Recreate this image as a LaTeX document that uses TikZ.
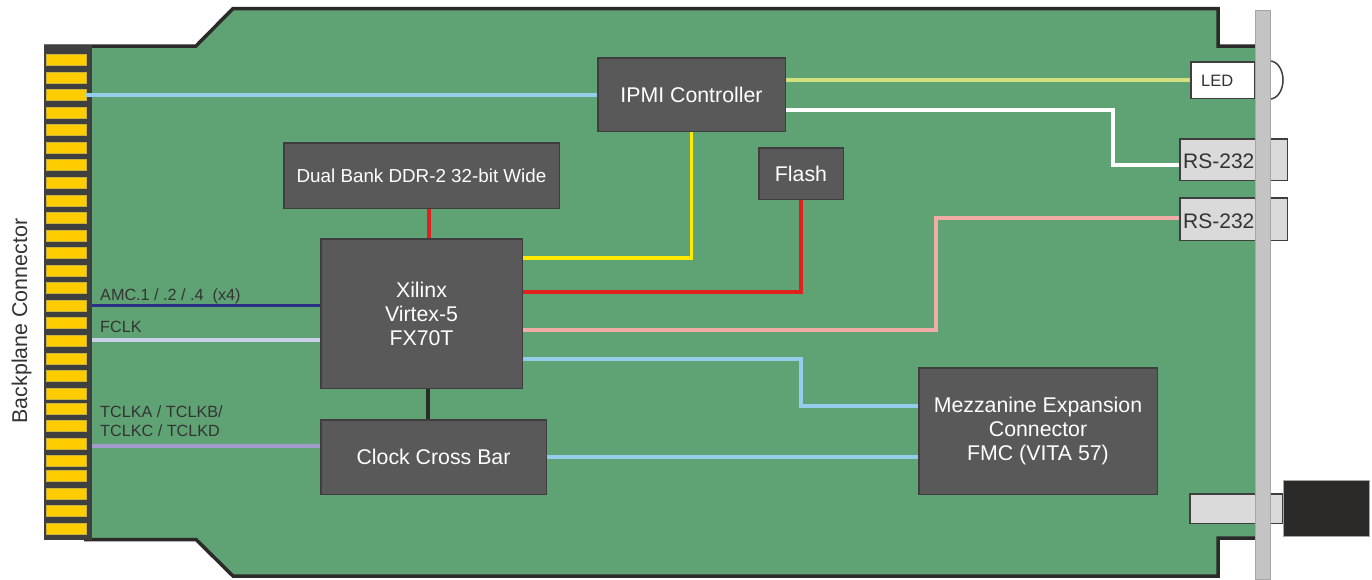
\documentclass[tikz,border=0pt]{standalone}
\usepackage{fontspec}
\setmainfont{Liberation Sans}
\definecolor{board}{HTML}{5FA274}
\definecolor{edgedark}{HTML}{2B2A29}
\definecolor{chip}{HTML}{595959}
\definecolor{chipline}{HTML}{3E3E3E}
\definecolor{strip}{HTML}{3F3F3F}
\definecolor{pad}{HTML}{FFCC00}
\definecolor{padline}{HTML}{C9B23C}
\definecolor{panel}{HTML}{C4C4C4}
\definecolor{panelline}{HTML}{A6A6A6}
\definecolor{port}{HTML}{DADADA}
\definecolor{wblue}{HTML}{93CDEB}
\definecolor{wlime}{HTML}{D3DF80}
\definecolor{wyellow}{HTML}{FFEA00}
\definecolor{wred}{HTML}{E0201C}
\definecolor{wpink}{HTML}{F2ACA8}
\definecolor{wnavy}{HTML}{2B2F85}
\definecolor{wlav}{HTML}{CBD0EA}
\definecolor{wpurple}{HTML}{A29CCB}
\definecolor{ink}{HTML}{333333}
\tikzset{
  chipbox/.style={draw=chipline,line width=1.5pt,fill=chip,text=white,inner sep=0pt,align=center,anchor=north west},
  portbox/.style={draw=chipline,line width=1.5pt,fill=port,text=ink,inner sep=0pt,anchor=north west},
  padbox/.style={draw=padline,line width=0.8pt,fill=pad,inner sep=0pt,minimum width=40pt,minimum height=11pt},
  wire/.style={line width=3.5pt},
  lab/.style={text=ink,font=\fontsize{16.2}{18.5}\selectfont,anchor=west,inner sep=0pt,align=left}
}
\begin{document}
\begin{tikzpicture}[x=1pt,y=-1pt]
\useasboundingbox (0,0) rectangle (1372,579);
% board
\fill[board] (92,46) -- (196,46) -- (233,8) -- (1218,8) -- (1218,46) -- (1256,46) -- (1256,538) -- (1218,538) -- (1218,576) -- (233,576) -- (196,540) -- (92,540) -- cycle;
\draw[edgedark,line width=3.5pt,line join=miter] (44,46) -- (196,46) -- (233,8.5) -- (1218,8.5) -- (1218,46) -- (1256,46);
\draw[edgedark,line width=3.5pt,line join=miter] (84,539.5) -- (196,539.5) -- (233,576) -- (1218,576) -- (1218,538) -- (1256,538);
% edge strip
\fill[strip] (44,45) rectangle (92,540);
% pads
\foreach \i/\y in {1/60,2/77.5,3/95,4/112.6,5/130,6/147.7,7/165.3,8/182.9,9/200.4,10/218,11/235.5,12/253,13/270.6,14/288,15/305.7,16/323.3,17/340.8,18/358.4,19/376,20/393.5,21/408.5,22/426,23/443.5,24/461,25/476,26/493.5,27/511,28/529}
  \node[padbox] (pad\i) at (66,\y) {};
% chips
\node[chipbox,minimum width=187.5pt,minimum height=73.5pt,font=\fontsize{21.3}{24}\selectfont] (ipmi) at (597,57) {IPMI Controller};
\node[chipbox,minimum width=275.5pt,minimum height=65.5pt,font=\fontsize{18.8}{20}\selectfont] (ddr) at (283,142) {Dual Bank DDR-2 32-bit Wide};
\node[chipbox,minimum width=84.5pt,minimum height=51.5pt,font=\fontsize{21.3}{24}\selectfont] (flash) at (758,147) {Flash};
\node[chipbox,minimum width=201.5pt,minimum height=149.5pt,font=\fontsize{21.3}{24}\selectfont] (xil) at (320,238) {Xilinx\\Virtex-5\\FX70T};
\node[chipbox,minimum width=225.5pt,minimum height=74.5pt,font=\fontsize{21.3}{24}\selectfont] (clk) at (320,419) {Clock Cross Bar};
\node[chipbox,minimum width=238.5pt,minimum height=126.5pt,font=\fontsize{21.3}{24}\selectfont] (mezz) at (918,367) {Mezzanine Expansion\\Connector\\FMC (VITA 57)};
% front panel parts behind the panel
\node[portbox,minimum width=63.5pt,minimum height=36.5pt,fill=white] (led) at (1190,61) {};
\draw[chipline,line width=1.5pt,fill=white] (1270,61) arc[start angle=-90,end angle=90,x radius=13,y radius=19];
\node[portbox,minimum width=107.5pt,minimum height=41.5pt] (rsa) at (1179,138) {};
\node[portbox,minimum width=107.5pt,minimum height=42.5pt] (rsb) at (1179,197) {};
\node[portbox,minimum width=92.5pt,minimum height=29.5pt] (jack) at (1189,493) {};
% panel and handle
\node[draw=panelline,line width=1pt,fill=panel,minimum width=15pt,minimum height=569pt,inner sep=0pt,anchor=north west] (panelbar) at (1255,10) {};
\node[draw=panelline,line width=0.6pt,fill=edgedark,minimum width=85.5pt,minimum height=55.5pt,inner sep=0pt,anchor=north west] (handle) at (1283,480) {};
% port texts
\node[text=ink,font=\fontsize{16.5}{17}\selectfont,anchor=west,inner sep=0pt] (ledt) at (1201,81) {LED};
\node[text=ink,font=\fontsize{21}{24}\selectfont,anchor=west,inner sep=0pt] (rsat) at (1183,161) {RS-232};
\node[text=ink,font=\fontsize{21}{24}\selectfont,anchor=west,inner sep=0pt] (rsbt) at (1183,221) {RS-232};
% free ends
\coordinate (eA) at (92,305.5);
\coordinate (eF) at (92,340);
\coordinate (eT) at (92,446);
% wires
\draw[wire,wblue] (pad3.east) -- (ipmi.west |- pad3.east);
\draw[wire,wlime] (ipmi.east |- led.west) -- (led.west);
\draw[wire,white] (ipmi.east |- 0,110) -- (1113,110) |- (rsa.west |- 0,165);
\draw[wire,wyellow] (xil.east |- 0,258) -| (ipmi.south);
\draw[wire,wred] (xil.east |- 0,292) -| (flash.south);
\draw[wire,wred] (ddr.south -| 429,0) -- (xil.north -| 429,0);
\draw[wire,wpink] (xil.east |- 0,330) -- (936,330) |- (rsb.west |- 0,218);
\draw[wire,wblue] (xil.east |- 0,359) -- (801,359) |- (mezz.west |- 0,406);
\draw[wire,wblue] (clk.east |- 0,457) -- (mezz.west |- 0,457);
\draw[wire,edgedark] (xil.south -| 428,0) -- (clk.north -| 428,0);
\draw[wire,wnavy] (eA) -- (xil.west |- eA);
\draw[wire,wlav] (eF) -- (xil.west |- eF);
\draw[wire,wpurple] (eT) -- (clk.west |- eT);
% labels
\node[lab] (lamc) at (100,296) {AMC.1 / .2 / .4\ \ (x4)};
\node[lab] (lfclk) at (100,326.5) {FCLK};
\node[lab] (ltclk) at (100,421) {TCLKA / TCLKB/\\TCLKC / TCLKD};
\node[text=ink,font=\fontsize{21.4}{24}\selectfont,rotate=90,inner sep=0pt] (bpc) at (21.5,321) {Backplane Connector};
\end{tikzpicture}
\end{document}
